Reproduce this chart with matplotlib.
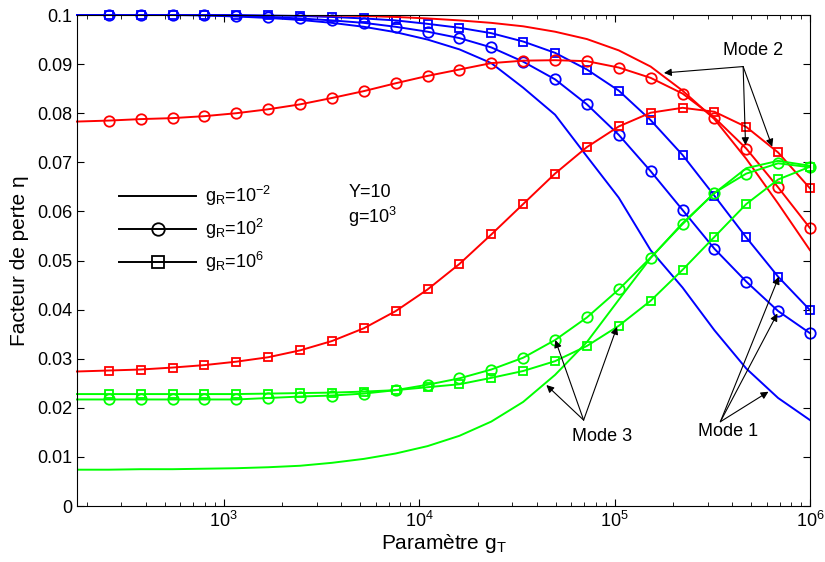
import matplotlib
matplotlib.use('Agg')
import math
import matplotlib.pyplot as plt
from matplotlib.lines import Line2D
import matplotlib.ticker as ticker

plt.rcParams['font.family'] = ['Liberation Sans', 'DejaVu Sans']
plt.rcParams['mathtext.default'] = 'regular'
plt.rcParams['font.size'] = 13

# parametre gT (log spaced)
gT = [177.8, 258.8, 376.8, 548.4, 798.5, 1162, 1691, 2462, 3584, 5218, 7595, 11050,
      16090, 23420, 34090, 49620, 72240, 105100, 153000, 222800, 324300, 472100, 687100, 1000000]

# Mode 1 (bleu)
m1_solid = [0.1, 0.1, 0.1, 0.1, 0.0999, 0.0997, 0.0994, 0.0990, 0.0984, 0.0976, 0.0965, 0.0950,
            0.0930, 0.0902, 0.0852, 0.0797, 0.0712, 0.0628, 0.0521, 0.0445, 0.0358, 0.0280, 0.0220, 0.0175]
m1_circ = [0.1, 0.1, 0.1, 0.1, 0.1, 0.0998, 0.0996, 0.0993, 0.0989, 0.0984, 0.0976, 0.0966,
           0.0953, 0.0934, 0.0905, 0.0869, 0.0818, 0.0756, 0.0682, 0.0603, 0.0524, 0.0457, 0.0397, 0.0352]
m1_sq = [0.1, 0.1, 0.1, 0.1, 0.1, 0.1, 0.0999, 0.0998, 0.0996, 0.0993, 0.0989, 0.0982,
         0.0974, 0.0963, 0.0946, 0.0923, 0.0889, 0.0846, 0.0786, 0.0715, 0.0632, 0.0547, 0.0467, 0.0399]

# Mode 2 (rouge)
m2_solid = [0.1, 0.1, 0.1, 0.1, 0.1, 0.1, 0.1, 0.1, 0.0999, 0.0998, 0.0996, 0.0993,
            0.0989, 0.0984, 0.0977, 0.0966, 0.0951, 0.0928, 0.0895, 0.0846, 0.0788, 0.0707, 0.0616, 0.0521]
m2_circ = [0.0783, 0.0785, 0.0788, 0.0790, 0.0794, 0.0800, 0.0808, 0.0818, 0.0831, 0.0845, 0.0861, 0.0876,
           0.0889, 0.0902, 0.0907, 0.0908, 0.0906, 0.0893, 0.0872, 0.0840, 0.0791, 0.0728, 0.0649, 0.0566]
m2_sq = [0.0274, 0.0276, 0.0278, 0.0282, 0.0287, 0.0294, 0.0303, 0.0317, 0.0336, 0.0362, 0.0397, 0.0441,
         0.0493, 0.0553, 0.0615, 0.0677, 0.0731, 0.0773, 0.0801, 0.0811, 0.0803, 0.0772, 0.0720, 0.0647]

# Mode 3 (vert)
m3_solid = [0.0074, 0.0074, 0.0075, 0.0075, 0.0076, 0.0077, 0.0079, 0.0082, 0.0088, 0.0096, 0.0107, 0.0122,
            0.0143, 0.0172, 0.0212, 0.0267, 0.0334, 0.0420, 0.0505, 0.0576, 0.0637, 0.0688, 0.0703, 0.0693]
m3_circ = [0.0217, 0.0217, 0.0217, 0.0217, 0.0217, 0.0217, 0.0220, 0.0223, 0.0225, 0.0229, 0.0236, 0.0247,
           0.0260, 0.0278, 0.0302, 0.0338, 0.0384, 0.0441, 0.0506, 0.0574, 0.0638, 0.0677, 0.0698, 0.0690]
m3_sq = [0.0228, 0.0228, 0.0228, 0.0228, 0.0228, 0.0228, 0.0229, 0.0230, 0.0231, 0.0233, 0.0236, 0.0242,
         0.0248, 0.0261, 0.0275, 0.0295, 0.0326, 0.0367, 0.0418, 0.0481, 0.0548, 0.0615, 0.0665, 0.0691]

fig = plt.figure(figsize=(8.25, 5.62), dpi=100)
ax = fig.add_axes([0.0933, 0.0996, 0.8885, 0.8737])

lw = 1.4
series = [(m1_solid, m1_circ, m1_sq, '#0000ff'),
          (m2_solid, m2_circ, m2_sq, '#ff0000'),
          (m3_solid, m3_circ, m3_sq, '#00ff00')]
for s, c, q, col in series:
    ax.plot(gT, s, '-', color=col, lw=lw)
    ax.plot(gT, c, '-', color=col, lw=lw, marker='o', ms=7.5, mfc='none', mew=1.3,
            markevery=slice(1, None), clip_on=False)
    ax.plot(gT, q, '-', color=col, lw=lw, marker='s', ms=5.8, mfc='none', mew=1.3,
            markevery=slice(1, None), clip_on=False)

ax.set_xscale('log')
ax.set_xlim(177.8, 1e6)
ax.set_ylim(0, 0.1)
ax.set_yticks([0, 0.01, 0.02, 0.03, 0.04, 0.05, 0.06, 0.07, 0.08, 0.09, 0.1])
ax.yaxis.set_major_formatter(ticker.FormatStrFormatter('%g'))
ax.set_xticks([1e3, 1e4, 1e5, 1e6])
ax.xaxis.set_major_formatter(ticker.FuncFormatter(lambda v, p: '$10^{%d}$' % round(math.log10(v))))
ax.xaxis.set_minor_formatter(ticker.NullFormatter())
ax.tick_params(which='both', direction='in', top=True, right=True, labelsize=13)
ax.tick_params(which='major', length=5)
ax.tick_params(which='minor', length=3)

ax.set_xlabel('Paramètre g$_T$', fontsize=15, labelpad=1)
ax.set_ylabel('Facteur de perte η', fontsize=15, labelpad=6)

handles = [Line2D([], [], color='k', lw=lw),
           Line2D([], [], color='k', lw=lw, marker='o', ms=9, mfc='none', mew=1.3),
           Line2D([], [], color='k', lw=lw, marker='s', ms=9, mfc='none', mew=1.3)]
labels = ['g$_R$=10$^{-2}$', 'g$_R$=10$^{2}$', 'g$_R$=10$^{6}$']
ax.legend(handles, labels, loc='upper left', bbox_to_anchor=(0.057, 0.656), frameon=False,
          borderpad=0, borderaxespad=0, handlelength=4.3, handletextpad=0.5, labelspacing=0.5,
          fontsize=13)

ax.text(0.370, 0.639, 'Y=10', transform=ax.transAxes, fontsize=13, va='center')
ax.text(0.370, 0.589, 'g=10$^{3}$', transform=ax.transAxes, fontsize=13, va='center')

arrow = dict(arrowstyle='-|>', color='k', lw=0.8, mutation_scale=11, shrinkA=0, shrinkB=0)

ax.text(5.14e5, 0.0928, 'Mode 2', ha='center', va='center', fontsize=13)
for tip in [(1.79e5, 0.0882), (4.68e5, 0.0735), (6.41e5, 0.0732)]:
    ax.annotate('', xy=tip, xytext=(4.55e5, 0.0895), arrowprops=arrow)

ax.text(8.65e4, 0.01426, 'Mode 3', ha='center', va='center', fontsize=13)
for tip in [(4.48e4, 0.02464), (4.98e4, 0.0338), (1.03e5, 0.0365)]:
    ax.annotate('', xy=tip, xytext=(6.95e4, 0.0175), arrowprops=arrow)

ax.text(3.83e5, 0.01527, 'Mode 1', ha='center', va='center', fontsize=13)
for tip in [(6.13e5, 0.02328), (6.93e5, 0.0467), (6.81e5, 0.0392)]:
    ax.annotate('', xy=tip, xytext=(3.48e5, 0.01717), arrowprops=arrow)

fig.savefig('out.png', dpi=100)
